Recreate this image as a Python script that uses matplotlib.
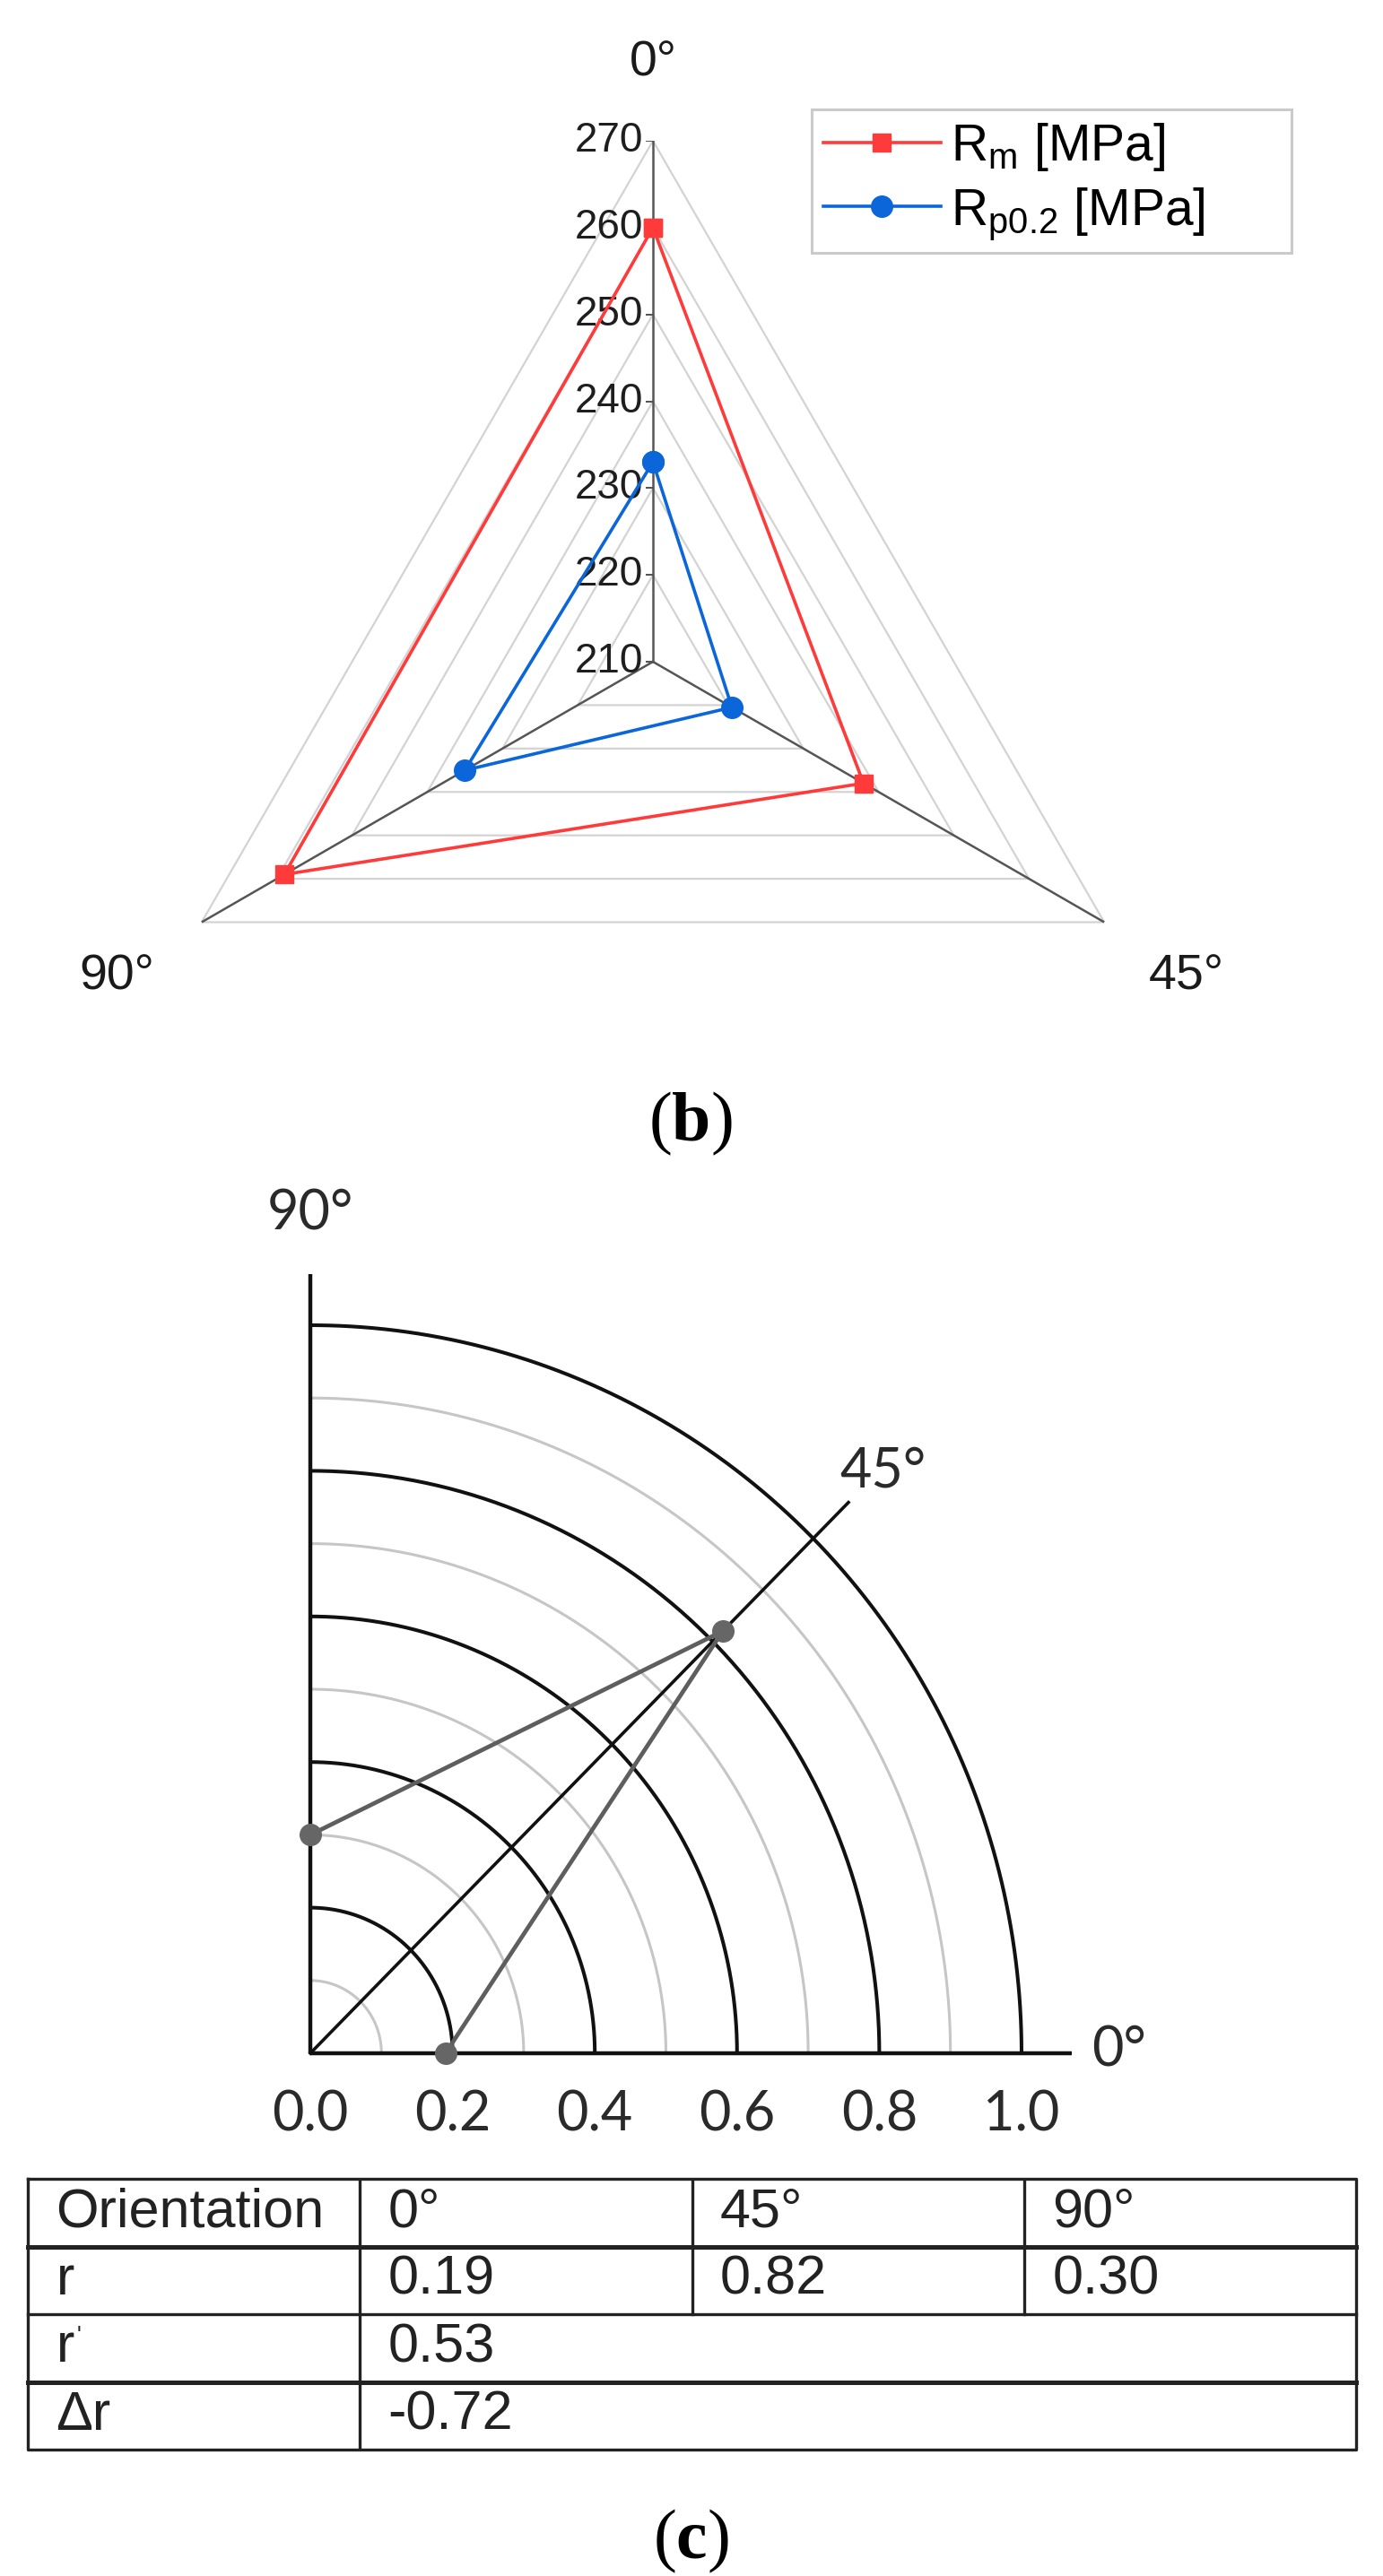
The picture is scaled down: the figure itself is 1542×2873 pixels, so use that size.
"""
Figura (b) + (c): diagrama radar de Rm / Rp0.2 y cuadrante de anisotropía r.
"""

import numpy as np
import matplotlib
matplotlib.use("Agg")
import matplotlib.pyplot as plt

W, H = 1542, 2873
DPI = 100

plt.rcParams["font.family"] = ["Liberation Sans", "DejaVu Sans"]
plt.rcParams["mathtext.fontset"] = "custom"
plt.rcParams["mathtext.sf"] = "Liberation Serif"
plt.rcParams["mathtext.bf"] = "Liberation Serif:bold"

# ---------------------------------------------------------------------------
# Datos
# ---------------------------------------------------------------------------
angle_labels = ["0°", "45°", "90°"]
radar_levels = [210, 220, 230, 240, 250, 260, 270]
rm_values = [260, 238, 259]        # Rm [MPa]
rp_values = [233, 220.5, 235]      # Rp0.2 [MPa]

r_angles = [0, 45, 90]
r_values = [0.19, 0.82, 0.30]
r_ticks = [0.0, 0.2, 0.4, 0.6, 0.8, 1.0]
r_circles = [0.1, 0.2, 0.3, 0.4, 0.5, 0.6, 0.7, 0.8, 0.9, 1.0]
table_header = ["Orientation", "0°", "45°", "90°"]
r_mean = 0.53
delta_r = -0.72

RED = "#ff3a3a"
BLUE = "#0b66d9"


def px_axes(fig, x0, y0, x1, y1, **kw):
    """Axes a partir de una caja en píxeles (origen arriba a la izquierda)."""
    return fig.add_axes([x0 / W, 1 - y1 / H, (x1 - x0) / W, (y1 - y0) / H], **kw)


fig = plt.figure(figsize=(W / DPI, H / DPI), dpi=DPI)

# ---------------------------------------------------------------------------
# (b) Radar triangular
# ---------------------------------------------------------------------------
cx, cy, R = 728, 738, 581
ax = px_axes(fig, cx - R, cy - R, cx + R, cy + R, projection="polar")
ax.set_theta_zero_location("N")
ax.set_theta_direction(-1)
ax.set_ylim(radar_levels[0], radar_levels[-1])
ax.grid(False)
ax.set_xticks([])
ax.set_yticks([])
ax.spines["polar"].set_visible(False)
ax.patch.set_visible(False)

theta = np.deg2rad([0, 120, 240])
theta_c = np.r_[theta, theta[0]]

for lv in radar_levels[1:]:
    ax.plot(theta_c, [lv] * 4, color="#d3d3d3", lw=1.6, zorder=1)
for t in theta:
    ax.plot([t, t], [radar_levels[0], radar_levels[-1]], color="#555555",
            lw=1.8, zorder=2)
ax.plot([0] * len(radar_levels), radar_levels, ls="none", marker=0,
        ms=6, mew=1.4, color="#555555", zorder=2)

for lv in radar_levels:
    ax.annotate(str(lv), (0, lv), xytext=(-8, 0), textcoords="offset points",
                ha="right", va="center", fontsize=33, color="#1e1e1e")

ax.plot(theta_c, rm_values + rm_values[:1], color=RED, lw=2.6, marker="s",
        ms=15, zorder=4, clip_on=False, label=r"R$_\mathregular{m}$ [MPa]")
ax.plot(theta_c, rp_values + rp_values[:1], color=BLUE, lw=2.6, marker="o",
        ms=17, zorder=5, clip_on=False, label=r"R$_\mathregular{p0.2}$ [MPa]")

offsets = [(0, 62), (66, -44), (-68, -44)]
for t, lab, off in zip(theta, angle_labels, offsets):
    ax.annotate(lab, (t, radar_levels[-1]), xytext=off, textcoords="offset points",
                ha="center", va="center", fontsize=40, color="#1a1a1a")

leg = fig.legend(*ax.get_legend_handles_labels(), loc="upper left",
                 bbox_to_anchor=(905 / W, 1 - 280 / H, 535 / W, 158 / H),
                 mode="expand", fontsize=41,
                 frameon=True, fancybox=False, edgecolor="#bdbdbd",
                 handlelength=2.3, borderpad=0.22, labelspacing=0.25,
                 handletextpad=0.2, borderaxespad=0)
leg.get_frame().set_linewidth(2.2)

fig.text(770 / W, 1 - 1253 / H, r"$\mathsf{(}\mathbf{b}\mathsf{)}$",
         ha="center", va="center", fontsize=56)

# ---------------------------------------------------------------------------
# (c) Cuadrante de anisotropía
# ---------------------------------------------------------------------------
ox, oy, sx, sy = 346, 2290, 793, 812
axc = px_axes(fig, ox - 0.1 * sx, oy - 1.2 * sy, ox + 1.3 * sx, oy + 0.1 * sy)
axc.set_xlim(-0.1, 1.3)
axc.set_ylim(-0.1, 1.2)
axc.axis("off")

phi = np.linspace(0, np.pi / 2, 300)
for k, rc in enumerate(r_circles, 1):
    if k % 2 == 0:
        axc.plot(rc * np.cos(phi), rc * np.sin(phi), color="#111111", lw=2.9, zorder=2)
    else:
        axc.plot(rc * np.cos(phi), rc * np.sin(phi), color="#c6c6c6", lw=2.2, zorder=1)

ext = 1.07
axc.plot([0, ext], [0, 0], color="#111111", lw=3.2, zorder=3, solid_capstyle="butt")
axc.plot([0, 0], [0, ext], color="#111111", lw=3.2, zorder=3, solid_capstyle="butt")
a45 = np.deg2rad(45)
axc.plot([0, ext * np.cos(a45)], [0, ext * np.sin(a45)], color="#111111", lw=2.6, zorder=3)

ang = np.deg2rad(r_angles)
px = np.array(r_values) * np.cos(ang)
py = np.array(r_values) * np.sin(ang)
for i in (0, 2):
    axc.plot([px[i], px[1]], [py[i], py[1]], color="#5e5e5e", lw=3.4, zorder=4)
axc.plot(px, py, ls="none", marker="o", ms=17, color="#666666", zorder=5, clip_on=False)

lato = dict(family=["Lato", "DejaVu Sans"], fontsize=44, color="#2a2a2a")
for tk in r_ticks:
    axc.annotate(f"{tk:.1f}", (tk, 0), xytext=(0, -50), textcoords="offset points",
                 ha="center", va="center", **lato)
axc.annotate("90°", (0, ext), xytext=(0, 48), textcoords="offset points",
             ha="center", va="center", **lato)
axc.annotate("0°", (ext, 0), xytext=(38, 2), textcoords="offset points",
             ha="center", va="center", **lato)
axc.annotate("45°", (ext * np.cos(a45), ext * np.sin(a45)), xytext=(28, 25),
             textcoords="offset points", ha="center", va="center", **lato)

# Tabla
axt = px_axes(fig, 31, 2430, 1512, 2732)
axt.set_xlim(0, 4)
axt.set_ylim(4, 0)
axt.axis("off")
lc = "#222222"
axt.plot([0, 4, 4, 0, 0], [0, 0, 4, 4, 0], color=lc, lw=2.4, clip_on=False)
for yy, lw in zip([1, 2, 3], [3.6, 2.4, 3.6]):
    axt.plot([0, 4], [yy, yy], color=lc, lw=lw, clip_on=False)
axt.plot([1, 1], [0, 4], color=lc, lw=2.4)
for xx in (2, 3):
    axt.plot([xx, xx], [0, 2], color=lc, lw=2.4)

tkw = dict(ha="left", va="center", fontsize=44, color="#222222")
pad = 0.085
for j, txt in enumerate(table_header):
    axt.text(j + pad, 0.5, txt, **tkw)
axt.text(pad, 1.5, "r", **tkw)
for j, v in enumerate(r_values):
    axt.text(j + 1 + pad, 1.5, f"{v:.2f}", **tkw)
axt.text(pad, 2.5, "r", **tkw)
axt.annotate("'", (pad, 2.5), xytext=(17, 10), textcoords="offset points",
             ha="left", va="center", fontsize=18, color="#222222")
axt.text(1 + pad, 2.5, f"{r_mean:.2f}", **tkw)
axt.text(pad, 3.5, "Δr", **tkw)
axt.text(1 + pad, 3.5, f"{delta_r:.2f}", **tkw)

fig.text(770 / W, 1 - 2834 / H, r"$\mathsf{(}\mathbf{c}\mathsf{)}$",
         ha="center", va="center", fontsize=56)

fig.savefig("out.png", dpi=DPI)
